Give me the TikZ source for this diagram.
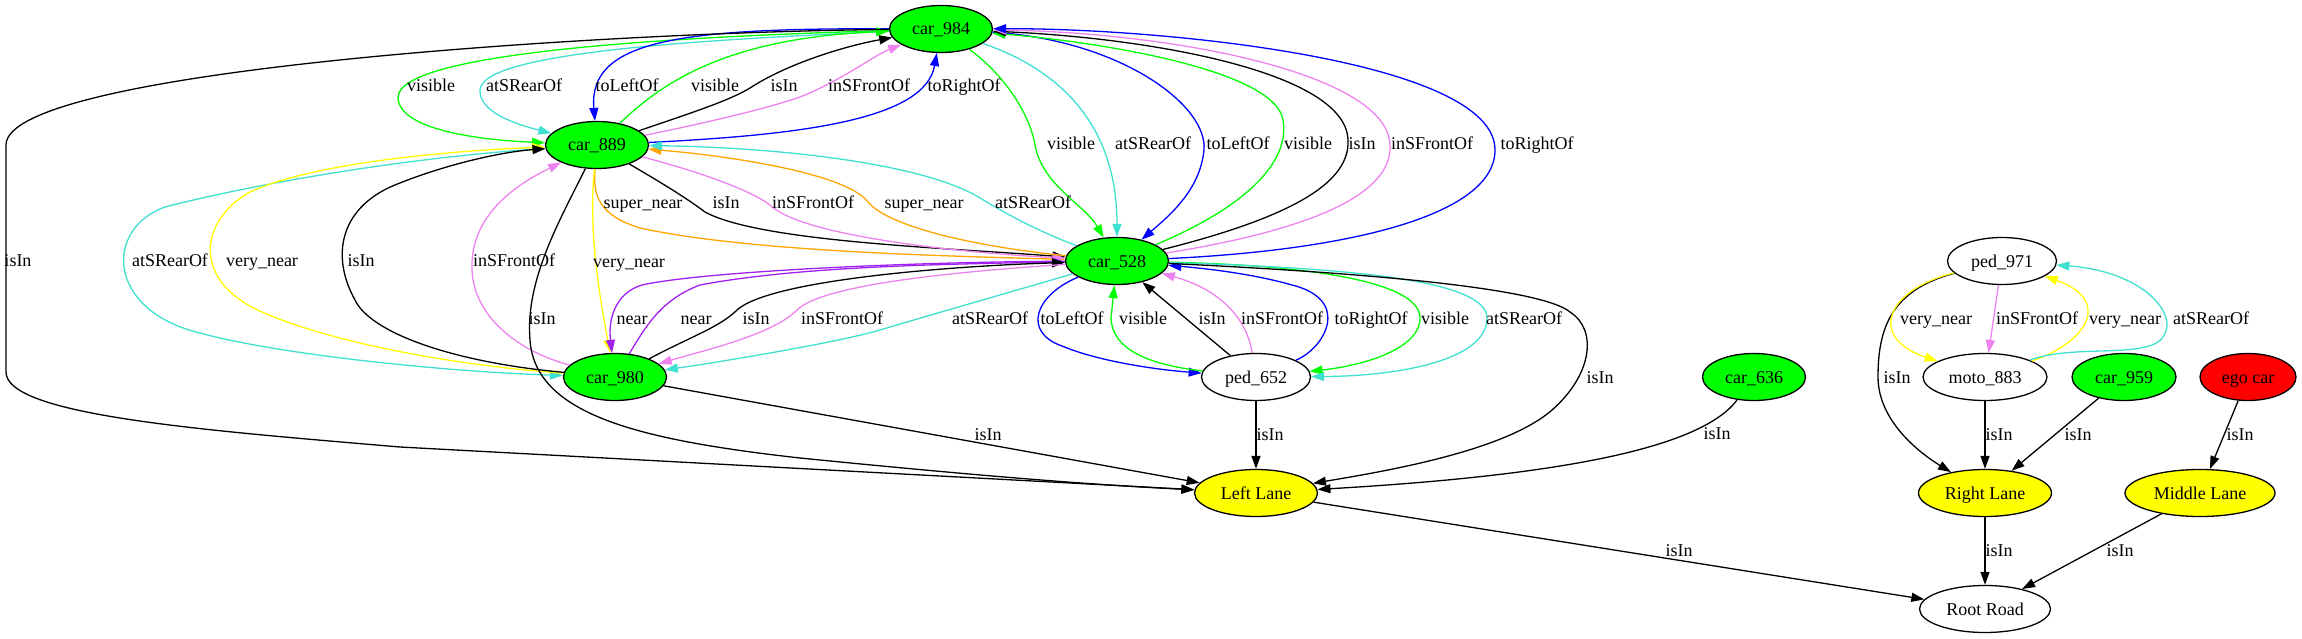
\documentclass[tikz,border=0pt]{standalone}
\usepackage{fontspec}
\setmainfont{Liberation Serif}
\usetikzlibrary{arrows.meta,shapes.geometric}
\definecolor{gvgreen}{HTML}{00FF00}
\definecolor{gvturq}{HTML}{40E0D0}
\definecolor{gvblue}{HTML}{0000FF}
\definecolor{gvviolet}{HTML}{EE82EE}
\definecolor{gvorange}{HTML}{FFA500}
\definecolor{gvpurple}{HTML}{A020F0}
\definecolor{gvyellow}{HTML}{FFFF00}
\definecolor{gvred}{HTML}{FF0000}
\begin{document}
\begin{tikzpicture}[x=1pt,y=-1pt,
  every node/.style={font=\fontsize{18pt}{20pt}\selectfont},
  gnode/.style={ellipse, draw=black, line width=1.3pt, minimum height=47pt, inner sep=0pt, text height=12pt, text depth=0pt, text=black},
  gcar/.style={gnode, fill=gvgreen, minimum width=103pt},
  lbl/.style={inner sep=0pt, text height=12pt, text depth=0pt, text=black},
  gvedge/.style={line width=1.3pt, -{Triangle[length=13pt,width=9pt]}},
]
\useasboundingbox (0,0) rectangle (2302,639);
% nodes
\node[gcar] (n984) at (941,29) {car\_984};
\node[gcar] (n889) at (597,145) {car\_889};
\node[gcar] (n528) at (1117,261) {car\_528};
\node[gcar] (n980) at (615,377) {car\_980};
\node[gnode, minimum width=109pt] (n652) at (1256,377) {ped\_652};
\node[gnode, fill=gvyellow, minimum width=123pt] (nLL) at (1256,493) {Left Lane};
\node[gcar] (n636) at (1754,377) {car\_636};
\node[gnode, minimum width=109pt] (n971) at (2002,261) {ped\_971};
\node[gnode, minimum width=124pt] (n883) at (1985,377) {moto\_883};
\node[gcar, minimum width=104pt] (n959) at (2124,377) {car\_959};
\node[gnode, fill=gvred, minimum width=96pt] (nego) at (2248,377) {ego car};
\node[gnode, fill=gvyellow, minimum width=133pt] (nRL) at (1985,493) {Right Lane};
\node[gnode, fill=gvyellow, minimum width=150pt] (nML) at (2200,493) {Middle Lane};
\node[gnode, minimum width=131pt] (nRR) at (1985,609) {Root Road};

% car_984 <-> car_889
\draw[gvedge,gvgreen] (n984) .. controls (700,36) and (400,50) .. (398,97) .. controls (398,130) and (480,140) .. (n889) node[lbl] (l1) at (431,86) {visible};
\draw[gvedge,gvturq] (n984) .. controls (700,40) and (482,52) .. (480,90) .. controls (479,112) and (515,124) .. (n889) node[lbl] (l2) at (524,86) {atSRearOf};
\draw[gvedge,gvblue] (n984) .. controls (680,28) and (588,40) .. (n889) node[lbl] (l3) at (627,86) {toLeftOf};
\draw[gvedge,gvgreen] (n889) .. controls (665,80) and (730,38) .. (n984) node[lbl] (l4) at (715,86) {visible};
\draw[gvedge] (n889) .. controls (700,110) and (730,100) .. (750,88) .. controls (790,62) and (850,45) .. (n984) node[lbl] (l5) at (784,86) {isIn};
\draw[gvedge,gvviolet] (n889) .. controls (720,120) and (780,105) .. (805,95) .. controls (845,78) and (875,55) .. (n984) node[lbl] (l6) at (869,86) {inSFrontOf};
\draw[gvedge,gvblue] (n889) .. controls (800,135) and (925,120) .. (n984) node[lbl] (l7) at (964,86) {toRightOf};

% car_984 <-> car_528
\draw[gvedge,gvgreen] (n984) .. controls (1005,75) and (1030,115) .. (1035,145) .. controls (1042,185) and (1085,205) .. (n528) node[lbl] (l8) at (1071,144) {visible};
\draw[gvedge,gvturq] (n984) .. controls (1060,70) and (1117,125) .. (n528) node[lbl] (l9) at (1153,144) {atSRearOf};
\draw[gvedge,gvblue] (n984) .. controls (1120,40) and (1208,105) .. (1204,150) .. controls (1200,190) and (1170,215) .. (n528) node[lbl] (l10) at (1238,144) {toLeftOf};
\draw[gvedge,gvgreen] (n528) .. controls (1250,205) and (1290,160) .. (1283,120) .. controls (1275,70) and (1100,42) .. (n984) node[lbl] (l11) at (1308,144) {visible};
\draw[gvedge] (n528) .. controls (1300,215) and (1350,180) .. (1348,140) .. controls (1346,72) and (1150,38) .. (n984) node[lbl] (l12) at (1362,144) {isIn};
\draw[gvedge,gvviolet] (n528) .. controls (1340,225) and (1392,185) .. (1390,145) .. controls (1388,75) and (1180,33) .. (n984) node[lbl] (l13) at (1432,144) {inSFrontOf};
\draw[gvedge,gvblue] (n528) .. controls (1350,250) and (1495,215) .. (1495,150) .. controls (1495,60) and (1160,28) .. (n984) node[lbl] (l14) at (1537,144) {toRightOf};

% car_889 <-> car_528
\draw[gvedge,gvorange] (n889) .. controls (593,195) and (598,215) .. (640,228) .. controls (750,252) and (950,256) .. (n528) node[lbl] (l15) at (643,202) {super\_near};
\draw[gvedge] (n889) .. controls (660,182) and (685,197) .. (705,212) .. controls (760,242) and (950,248) .. (n528) node[lbl] (l16) at (726,202) {isIn};
\draw[gvedge,gvviolet] (n889) .. controls (700,172) and (750,190) .. (770,205) .. controls (800,235) and (950,252) .. (n528) node[lbl] (l17) at (813,202) {inSFrontOf};
\draw[gvedge,gvorange] (n528) .. controls (980,247) and (890,228) .. (868,202) .. controls (845,172) and (720,155) .. (n889) node[lbl] (l18) at (924,202) {super\_near};
\draw[gvedge,gvturq] (n528) .. controls (1030,228) and (1000,210) .. (975,195) .. controls (910,160) and (760,147) .. (n889) node[lbl] (l19) at (1033,202) {atSRearOf};

% car_889 <-> car_980
\draw[gvedge,gvturq] (n889) .. controls (400,158) and (250,185) .. (165,207) .. controls (105,228) and (105,310) .. (200,333) .. controls (280,355) and (450,372) .. (n980) node[lbl] (l20) at (170,260) {atSRearOf};
\draw[gvedge,gvyellow] (n980) .. controls (450,365) and (330,342) .. (262,312) .. controls (190,280) and (200,220) .. (250,192) .. controls (320,160) and (470,150) .. (n889) node[lbl] (l21) at (262,260) {very\_near};
\draw[gvedge] (n980) .. controls (450,362) and (370,332) .. (355,300) .. controls (330,255) and (340,205) .. (400,183) .. controls (445,165) and (500,152) .. (n889) node[lbl] (l22) at (361,260) {isIn};
\draw[gvedge,gvviolet] (n980) .. controls (520,352) and (474,318) .. (472,270) .. controls (470,222) and (505,190) .. (n889) node[lbl] (l23) at (514,260) {inSFrontOf};
\draw[gvedge,gvyellow] (n889) .. controls (588,230) and (600,300) .. (n980) node[lbl] (l24) at (629,261) {very\_near};
\draw[gvedge] (n889) .. controls (560,220) and (525,280) .. (530,340) .. controls (535,415) and (640,440) .. (800,458) .. controls (1000,478) and (1100,485) .. (nLL) node[lbl] (l25) at (542,318) {isIn};

% car_528 <-> car_980
\draw[gvedge,gvpurple] (n528) .. controls (900,262) and (700,272) .. (642,285) .. controls (615,293) and (608,320) .. (n980) node[lbl] (l26) at (632,318) {near};
\draw[gvedge,gvpurple] (n980) .. controls (645,328) and (660,300) .. (700,285) .. controls (800,266) and (950,264) .. (n528) node[lbl] (l27) at (696,318) {near};
\draw[gvedge] (n980) .. controls (690,337) and (720,327) .. (737,310) .. controls (770,280) and (950,266) .. (n528) node[lbl] (l28) at (756,318) {isIn};
\draw[gvedge,gvviolet] (n528) .. controls (950,272) and (822,285) .. (797,310) .. controls (772,335) and (705,350) .. (n980) node[lbl] (l29) at (842,318) {inSFrontOf};
\draw[gvedge,gvturq] (n528) .. controls (1000,295) and (920,318) .. (880,330) .. controls (840,342) and (720,362) .. (n980) node[lbl] (l30) at (990,318) {atSRearOf};

% car_528 <-> ped_652
\draw[gvedge,gvblue] (n528) .. controls (1035,295) and (1022,332) .. (1062,346) .. controls (1100,362) and (1160,370) .. (n652) node[lbl] (l31) at (1072,318) {toLeftOf};
\draw[gvedge,gvgreen] (n652) .. controls (1150,365) and (1112,350) .. (1111,318) -- (n528) node[lbl] (l32) at (1143,318) {visible};
\draw[gvedge] (n652) -- (n528) node[lbl] (l33) at (1212,318) {isIn};
\draw[gvedge,gvviolet] (n652) .. controls (1247,320) and (1222,290) .. (n528) node[lbl] (l34) at (1282,318) {inSFrontOf};
\draw[gvedge,gvblue] (n652) .. controls (1325,348) and (1352,300) .. (1292,285) .. controls (1250,273) and (1200,268) .. (n528) node[lbl] (l35) at (1371,318) {toRightOf};
\draw[gvedge,gvgreen] (n528) .. controls (1300,265) and (1420,280) .. (1420,318) .. controls (1420,350) and (1360,366) .. (n652) node[lbl] (l36) at (1445,318) {visible};
\draw[gvedge,gvturq] (n528) .. controls (1350,268) and (1487,280) .. (1487,318) .. controls (1487,360) and (1400,376) .. (n652) node[lbl] (l37) at (1524,318) {atSRearOf};
\draw[gvedge] (n528) .. controls (1350,272) and (1540,287) .. (1570,312) .. controls (1598,330) and (1592,375) .. (1552,410) .. controls (1504,452) and (1380,472) .. (nLL) node[lbl] (l38) at (1600,377) {isIn};

% into Left Lane
\draw[gvedge] (n652) -- (nLL) node[lbl] (l39) at (1270,434) {isIn};
\draw[gvedge] (n980) -- (nLL) node[lbl] (l40) at (988,434) {isIn};
\draw[gvedge] (n984) .. controls (600,32) and (6,70) .. (6,145) -- (6,372) .. controls (6,415) and (200,430) .. (400,447) -- (nLL) node[lbl] (l41) at (18,260) {isIn};
\draw[gvedge] (n636) .. controls (1700,450) and (1550,476) .. (nLL) node[lbl] (l42) at (1717,433) {isIn};
\draw[gvedge] (nLL) -- (nRR) node[lbl] (l43) at (1679,550) {isIn};

% right cluster
\draw[gvedge] (n971) .. controls (1890,290) and (1878,330) .. (1878,377) .. controls (1878,420) and (1918,452) .. (nRL) node[lbl] (l44) at (1897,377) {isIn};
\draw[gvedge,gvyellow] (n971) .. controls (1885,290) and (1868,338) .. (n883) node[lbl] (l45) at (1936,318) {very\_near};
\draw[gvedge,gvviolet] (n971) -- (n883) node[lbl] (l46) at (2037,318) {inSFrontOf};
\draw[gvedge,gvyellow] (n883) .. controls (2088,342) and (2112,300) .. (n971) node[lbl] (l47) at (2125,318) {very\_near};
\draw[gvedge,gvturq] (n883) .. controls (2070,345) and (2135,357) .. (2158,342) .. controls (2185,322) and (2150,272) .. (n971) node[lbl] (l48) at (2211,318) {atSRearOf};
\draw[gvedge] (n883) -- (nRL) node[lbl] (l49) at (1999,434) {isIn};
\draw[gvedge] (n959) -- (nRL) node[lbl] (l50) at (2078,434) {isIn};
\draw[gvedge] (nego) -- (nML) node[lbl] (l51) at (2240,434) {isIn};
\draw[gvedge] (nRL) -- (nRR) node[lbl] (l52) at (1999,550) {isIn};
\draw[gvedge] (nML) -- (nRR) node[lbl] (l53) at (2120,550) {isIn};
\end{tikzpicture}
\end{document}
